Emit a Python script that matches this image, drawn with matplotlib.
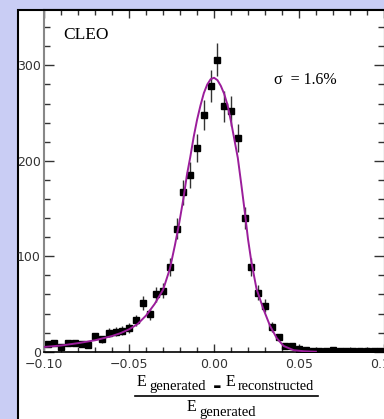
import numpy as np
import matplotlib
matplotlib.use("Agg")
import matplotlib.pyplot as plt
from matplotlib.patches import Rectangle
from matplotlib.lines import Line2D
from matplotlib.ticker import MultipleLocator

# histogram: bin centres and counts (bins of 0.004)
bin_centres = [-0.098, -0.094, -0.090, -0.086, -0.082, -0.078, -0.074, -0.070, -0.066, -0.062,
               -0.058, -0.054, -0.050, -0.046, -0.042, -0.038, -0.034, -0.030, -0.026, -0.022,
               -0.018, -0.014, -0.010, -0.006, -0.002, 0.002, 0.006, 0.010, 0.014, 0.018,
               0.022, 0.026, 0.030, 0.034, 0.038, 0.042, 0.046, 0.050, 0.054, 0.058,
               0.062, 0.066, 0.070, 0.074, 0.078, 0.082, 0.086, 0.090, 0.094, 0.098]
counts = [8, 9, 5, 9, 9, 8, 7, 16, 13, 20,
          21, 22, 25, 33, 51, 39, 60, 64, 89, 129,
          167, 185, 213, 248, 278, 306, 257, 252, 224, 140,
          89, 62, 48, 26, 15, 6, 6, 3, 2, 1,
          1, 1, 2, 1, 1, 1, 1, 1, 1, 1]

# fitted curve
fit_x = [-0.100, -0.090, -0.080, -0.070, -0.060, -0.055, -0.050, -0.045, -0.040, -0.035,
         -0.030, -0.026, -0.023, -0.0205, -0.018, -0.016, -0.014, -0.012, -0.010, -0.008,
         -0.006, -0.004, -0.002, 0.000, 0.002, 0.004, 0.006, 0.008, 0.010, 0.012,
         0.014, 0.016, 0.018, 0.020, 0.022, 0.025, 0.029, 0.033, 0.037, 0.041,
         0.047, 0.053, 0.060]
fit_y = [5, 6.5, 9, 12, 16.5, 19.5, 23.5, 29, 38, 50,
         65, 87, 112, 135, 161, 185, 204, 225, 243, 258,
         271, 280, 285.5, 287, 284.5, 278.5, 270, 258, 241, 222,
         203, 176, 148, 118, 94, 66, 45, 27, 14, 6,
         1.5, 0.5, 0]

xtick_vals = [-0.10, -0.05, 0.00, 0.05, 0.10]
xtick_text = ["\u22120.10", "\u22120.05", "0.00", "0.05", "0.10"]
ytick_vals = [0, 100, 200, 300]

W, H = 384, 419
def fx(px):
    return px / W
def fy(py):
    return 1 - py / H

fig = plt.figure(figsize=(W / 100, H / 100), dpi=100, facecolor="#c9cdf4")

# white slide panel with black frame
fig.add_artist(Rectangle((fx(17.5), -0.05), 1.2, fy(10) + 0.05, transform=fig.transFigure,
                         facecolor="white", edgecolor="black", lw=1.5, zorder=-1))

ax = fig.add_axes([fx(44.3), fy(351.7), fx(383.8) - fx(44.3), fy(10) - fy(351.7)])
ax.set_xlim(-0.1, 0.1)
ax.set_ylim(0, 358)

ax.errorbar(bin_centres, counts, yerr=np.sqrt(counts), fmt="s", ms=5, mfc="black",
            mec="black", ecolor="#333333", elinewidth=1, capsize=0, zorder=2)
ax.plot(fit_x, fit_y, color="#9b1d9b", lw=1.4, zorder=3)

ax.set_xticks(xtick_vals)
ax.set_xticklabels(xtick_text)
ax.set_yticks(ytick_vals)
ax.xaxis.set_minor_locator(MultipleLocator(0.01))
ax.yaxis.set_minor_locator(MultipleLocator(20))
ax.tick_params(which="both", direction="in", top=True, right=True, color="#333333")
ax.tick_params(axis="x", which="major", length=5.5, width=1, pad=4.5, labelsize=9, labelcolor="#333333")
ax.tick_params(axis="x", which="minor", length=3.5, width=1)
ax.tick_params(axis="y", which="major", length=7, width=1, pad=2.5, labelsize=9, labelcolor="#333333")
ax.tick_params(axis="y", which="minor", length=4, width=1)

ax.spines["left"].set_color("#888888")
ax.spines["left"].set_linewidth(1.5)
ax.spines["top"].set_linewidth(1.5)
ax.spines["bottom"].set_linewidth(1.2)

serif = "Liberation Serif"
fig.text(fx(63), fy(39), "CLEO", family=serif, fontsize=12.5, va="baseline")
fig.text(fx(274), fy(84), "\u03c3  = 1.6%", family=serif, fontsize=11.5, va="baseline")

# x label as a fraction
fig.text(fx(137), fy(386), "E", family=serif, fontsize=11.5, va="baseline")
fig.text(fx(149), fy(390.3), "generated", family=serif, fontsize=10.5, va="baseline")
fig.text(fx(216.7), fy(387), "-", family="DejaVu Sans", fontweight="bold", fontsize=15,
         ha="center", va="center")
fig.text(fx(226), fy(386), "E", family=serif, fontsize=11.5, va="baseline")
fig.text(fx(238), fy(390.3), "reconstructed", family=serif, fontsize=10.3, va="baseline")
fig.add_artist(Line2D([fx(135), fx(318.3)], [fy(396), fy(396)], color="black", lw=1.2,
                      transform=fig.transFigure))
fig.text(fx(187), fy(411.3), "E", family=serif, fontsize=11.5, va="baseline")
fig.text(fx(199.5), fy(416.3), "generated", family=serif, fontsize=10.5, va="baseline")

fig.savefig("out.png", dpi=100, facecolor=fig.get_facecolor())
